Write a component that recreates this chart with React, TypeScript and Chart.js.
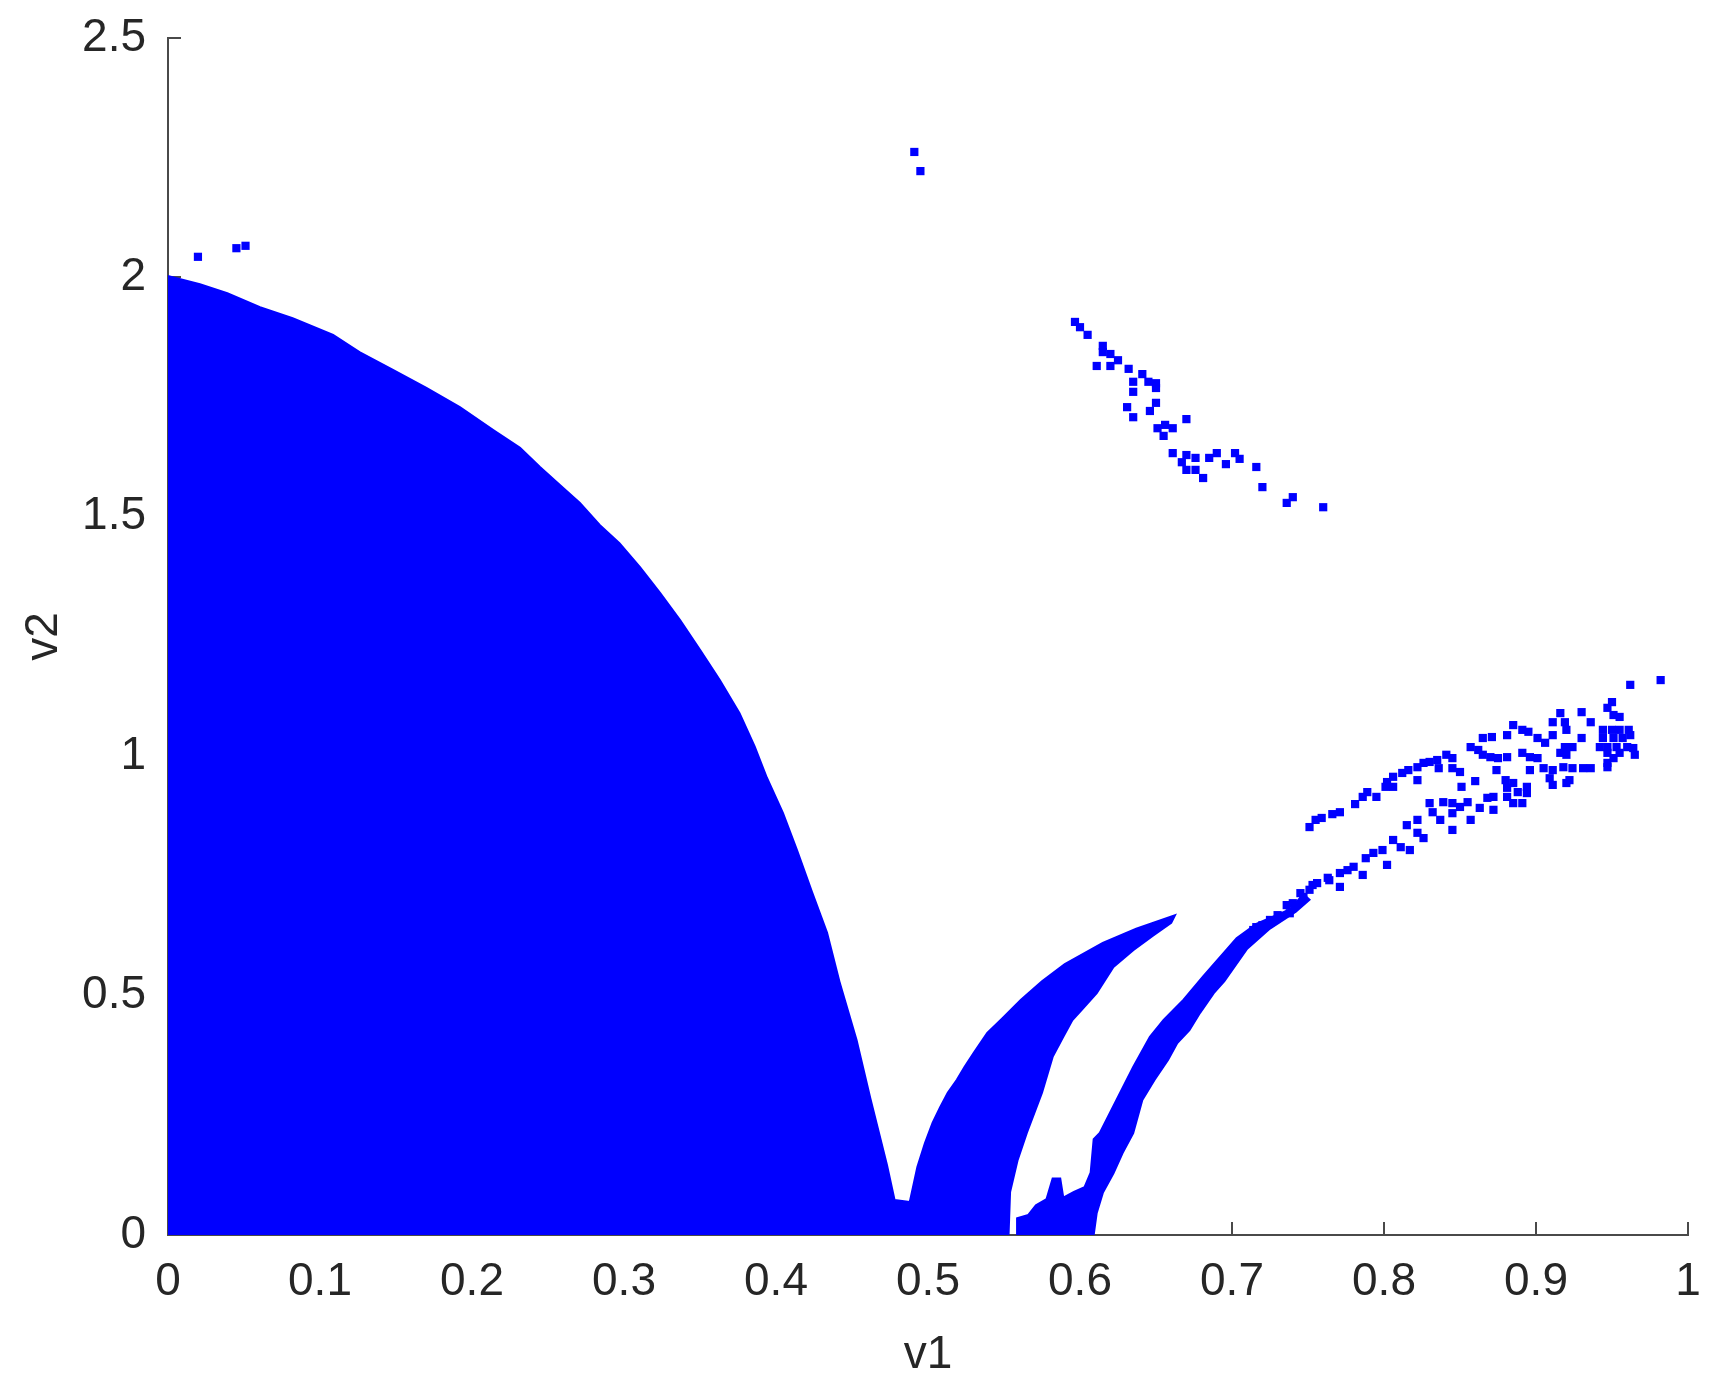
import React, { useEffect, useRef } from "react";
import { Chart, registerables } from "chart.js";

Chart.register(...registerables);

// ---- axis ticks ----
const xTicks = [0, 0.1, 0.2, 0.3, 0.4, 0.5, 0.6, 0.7, 0.8, 0.9, 1];
const xTickLabels = ["0", "0.1", "0.2", "0.3", "0.4", "0.5", "0.6", "0.7", "0.8", "0.9", "1"];
const yTicks = [0, 0.5, 1, 1.5, 2, 2.5];
const yTickLabels = ["0", "0.5", "1", "1.5", "2", "2.5"];
const xTitle = "v1";
const yTitle = "v2";

// ---- dense region: outline of main region + second lobe (v1, v2) ----
const mainRegion: [number, number][] = [
  [0, 0], [0, 2.003], [0.021, 1.986], [0.039, 1.967], [0.0605, 1.938], [0.082, 1.915],
  [0.1086, 1.88], [0.126, 1.844], [0.148, 1.807], [0.17, 1.769], [0.192, 1.729],
  [0.214, 1.681], [0.2316, 1.644], [0.2447, 1.604], [0.258, 1.566], [0.271, 1.529],
  [0.284, 1.483], [0.297, 1.445], [0.3105, 1.395], [0.3237, 1.341], [0.337, 1.284],
  [0.35, 1.222], [0.363, 1.159], [0.376, 1.09], [0.386, 1.02], [0.394, 0.955],
  [0.4046, 0.881], [0.4138, 0.804], [0.4237, 0.716], [0.4336, 0.631], [0.442, 0.526],
  [0.453, 0.407], [0.462, 0.286], [0.473, 0.146], [0.478, 0.073], [0.488, 0.069],
  [0.493, 0.142], [0.498, 0.192], [0.503, 0.234], [0.508, 0.267], [0.513, 0.297],
  [0.519, 0.324], [0.524, 0.351], [0.53, 0.38], [0.539, 0.422], [0.549, 0.453],
  [0.561, 0.491], [0.575, 0.53], [0.59, 0.566], [0.615, 0.61], [0.637, 0.64],
  [0.6625, 0.668], [0.66, 0.652], [0.648, 0.625], [0.635, 0.595], [0.622, 0.56],
  [0.611, 0.505], [0.601, 0.47], [0.595, 0.449], [0.589, 0.414], [0.582, 0.372],
  [0.575, 0.297], [0.565, 0.213], [0.559, 0.157], [0.554, 0.09], [0.553, 0],
];

// ---- dense strip rising from v1≈0.6 (with its bottom fringe) ----
const stripRegion: [number, number][] = [
  [0.5586, 0], [0.5586, 0.035], [0.566, 0.042], [0.571, 0.062], [0.578, 0.075],
  [0.582, 0.118], [0.587, 0.118], [0.589, 0.078], [0.596, 0.09], [0.603, 0.1],
  [0.607, 0.13], [0.609, 0.2], [0.613, 0.213], [0.624, 0.282], [0.635, 0.351],
  [0.646, 0.414], [0.655, 0.449], [0.668, 0.491], [0.681, 0.54], [0.703, 0.62],
  [0.716, 0.65], [0.738, 0.68], [0.747, 0.712], [0.751, 0.7], [0.742, 0.675],
  [0.725, 0.64], [0.71, 0.598], [0.695, 0.53], [0.688, 0.505], [0.679, 0.464],
  [0.672, 0.428], [0.664, 0.401], [0.658, 0.366], [0.649, 0.324], [0.641, 0.282],
  [0.635, 0.213], [0.628, 0.171], [0.622, 0.129], [0.615, 0.088], [0.611, 0.046],
  [0.609, 0],
];

// ---- isolated points near the top ----
const topPoints: [number, number][] = [
  [0.0197, 2.043], [0.045, 2.061], [0.051, 2.066], [0.491, 2.262], [0.495, 2.222],
];

// ---- cluster 0.6 < v1 < 0.76, 1.5 < v2 < 1.9 ----
const upperCluster: [number, number][] = [
  [0.5967, 1.907], [0.6, 1.896], [0.605, 1.88], [0.615, 1.857], [0.615, 1.844],
  [0.62, 1.84], [0.625, 1.827], [0.611, 1.815], [0.62, 1.815], [0.632, 1.809],
  [0.641, 1.798], [0.635, 1.782], [0.635, 1.761], [0.645, 1.782], [0.65, 1.779],
  [0.65, 1.769], [0.65, 1.738], [0.646, 1.721], [0.631, 1.729], [0.635, 1.708],
  [0.67, 1.704], [0.651, 1.685], [0.656, 1.692], [0.661, 1.685], [0.655, 1.669],
  [0.661, 1.633], [0.67, 1.629], [0.667, 1.614], [0.676, 1.623], [0.67, 1.598],
  [0.676, 1.598], [0.681, 1.581], [0.685, 1.623], [0.69, 1.633], [0.696, 1.61],
  [0.702, 1.633], [0.705, 1.621], [0.716, 1.604], [0.72, 1.562], [0.736, 1.529],
  [0.74, 1.541], [0.76, 1.52],
];

// ---- upper band 0.75 < v1 < 0.98 ----
const upperBand: [number, number][] = [
  [0.751, 0.852], [0.755, 0.867], [0.759, 0.871], [0.766, 0.879], [0.771, 0.883],
  [0.781, 0.9], [0.786, 0.915], [0.789, 0.925], [0.795, 0.915], [0.801, 0.936],
  [0.802, 0.946], [0.806, 0.957], [0.806, 0.936], [0.812, 0.965], [0.816, 0.971],
  [0.822, 0.977], [0.822, 0.95], [0.826, 0.986], [0.83, 0.988], [0.835, 0.992],
  [0.836, 0.975], [0.841, 1.003], [0.845, 0.996], [0.845, 0.975], [0.85, 0.967],
  [0.851, 0.936], [0.86, 0.948], [0.857, 1.019], [0.862, 1.013], [0.865, 1.003],
  [0.87, 0.998], [0.865, 1.038], [0.871, 1.04], [0.875, 0.996], [0.881, 0.998],
  [0.874, 0.971], [0.88, 0.95], [0.885, 0.944], [0.888, 0.925], [0.894, 0.936],
  [0.894, 0.923], [0.881, 1.044], [0.885, 1.065], [0.891, 1.055], [0.895, 1.051],
  [0.891, 1.007], [0.896, 0.998], [0.901, 0.996], [0.901, 1.038], [0.906, 1.028],
  [0.896, 0.971], [0.905, 0.975], [0.911, 0.971], [0.909, 0.954], [0.911, 0.94],
  [0.916, 1.007], [0.92, 1.003], [0.916, 1.09], [0.911, 1.071], [0.919, 1.071],
  [0.92, 1.055], [0.911, 1.044], [0.919, 1.019], [0.924, 1.019], [0.93, 1.038],
  [0.93, 1.092], [0.936, 1.071], [0.918, 0.977], [0.924, 0.975], [0.931, 0.975],
  [0.936, 0.975], [0.922, 0.95], [0.92, 0.944], [0.947, 0.977], [0.95, 1.113],
  [0.947, 1.101], [0.951, 1.086], [0.955, 1.082], [0.944, 1.055], [0.95, 1.055],
  [0.955, 1.055], [0.961, 1.055], [0.944, 1.038], [0.951, 1.038], [0.957, 1.038],
  [0.962, 1.044], [0.942, 1.019], [0.947, 1.019], [0.953, 1.019], [0.96, 1.019],
  [0.964, 1.017], [0.947, 1.007], [0.955, 1.007], [0.965, 1.003], [0.947, 0.986],
  [0.951, 0.996], [0.962, 1.149], [0.982, 1.159],
];

// ---- lower band 0.71 < v1 < 0.89 ----
const lowerBand: [number, number][] = [
  [0.714, 0.637], [0.716, 0.643], [0.72, 0.647], [0.725, 0.658], [0.73, 0.668],
  [0.736, 0.689], [0.738, 0.672], [0.74, 0.693], [0.745, 0.714], [0.747, 0.706],
  [0.751, 0.721], [0.753, 0.731], [0.756, 0.735], [0.763, 0.746], [0.764, 0.741],
  [0.771, 0.727], [0.771, 0.756], [0.776, 0.762], [0.78, 0.769], [0.786, 0.752],
  [0.788, 0.787], [0.793, 0.798], [0.799, 0.804], [0.802, 0.773], [0.806, 0.825],
  [0.811, 0.81], [0.817, 0.804], [0.815, 0.856], [0.822, 0.867], [0.822, 0.84],
  [0.826, 0.829], [0.83, 0.902], [0.832, 0.883], [0.837, 0.867], [0.839, 0.904],
  [0.845, 0.902], [0.845, 0.881], [0.845, 0.846], [0.85, 0.894], [0.855, 0.904],
  [0.857, 0.867], [0.863, 0.892], [0.868, 0.913], [0.872, 0.915], [0.872, 0.888],
  [0.881, 0.915], [0.885, 0.902], [0.891, 0.902], [0.881, 0.934],
];

const BLUE = "#0000ff";
const TEXT = "#262626";
const AXIS = "#4a4a4a";
const FONT = "'Liberation Sans', Arial, Helvetica, sans-serif";

const toXY = (arr: [number, number][]) => arr.map(([x, y]) => ({ x, y }));

const inwardTicks = {
  id: "inwardTicks",
  beforeDatasetsDraw(chart: any) {
    const { ctx, chartArea, scales } = chart;
    ctx.save();
    ctx.strokeStyle = AXIS;
    ctx.lineWidth = 2;
    ctx.beginPath();
    xTicks.forEach((v) => {
      const px = Math.round(scales.x.getPixelForValue(v));
      ctx.moveTo(px, chartArea.bottom);
      ctx.lineTo(px, chartArea.bottom - 13);
    });
    yTicks.forEach((v) => {
      const py = Math.round(scales.y.getPixelForValue(v));
      ctx.moveTo(chartArea.left, py);
      ctx.lineTo(chartArea.left + 13, py);
    });
    ctx.stroke();
    ctx.restore();
  },
};

const shapeDataset = (label: string, arr: [number, number][]) => ({
  label,
  data: toXY(arr),
  showLine: true,
  fill: "shape",
  backgroundColor: BLUE,
  borderColor: BLUE,
  borderWidth: 2,
  pointRadius: 0,
  tension: 0,
});

const markerDataset = (label: string, arr: [number, number][]) => ({
  label,
  data: toXY(arr),
  showLine: false,
  pointStyle: "rect",
  pointRadius: 5.8,
  pointBorderWidth: 0,
  pointBackgroundColor: BLUE,
  pointBorderColor: BLUE,
});

export default function App() {
  const ref = useRef<HTMLCanvasElement | null>(null);

  useEffect(() => {
    if (!ref.current) return;
    const chart = new Chart(ref.current, {
      type: "scatter",
      data: {
        datasets: [
          shapeDataset("main", mainRegion),
          shapeDataset("strip", stripRegion),
          markerDataset("top", topPoints),
          markerDataset("cluster", upperCluster),
          markerDataset("upper", upperBand),
          markerDataset("lower", lowerBand),
        ] as any,
      },
      options: {
        responsive: false,
        animation: false,
        devicePixelRatio: 1,
        events: [],
        layout: { padding: { left: 0, right: 34, top: 30, bottom: 0 } },
        plugins: {
          legend: { display: false },
          tooltip: { enabled: false },
        },
        scales: {
          x: {
            type: "linear",
            min: 0,
            max: 1,
            afterBuildTicks: (s: any) => {
              s.ticks = xTicks.map((v) => ({ value: v }));
            },
            afterFit: (s: any) => {
              s.height = 156;
              s.paddingLeft = 0;
              s.paddingRight = 0;
            },
            grid: { display: false, drawTicks: false },
            border: { display: true, color: AXIS, width: 2 },
            ticks: {
              padding: 20,
              color: TEXT,
              font: { family: FONT, size: 46 },
              maxRotation: 0,
              autoSkip: false,
              callback: (_v: any, i: number) => xTickLabels[i],
            },
            title: {
              display: true,
              text: xTitle,
              color: TEXT,
              font: { family: FONT, size: 46 },
              padding: { top: 0, bottom: 8 },
            },
          },
          y: {
            type: "linear",
            min: 0,
            max: 2.5,
            afterBuildTicks: (s: any) => {
              s.ticks = yTicks.map((v) => ({ value: v }));
            },
            afterFit: (s: any) => {
              s.width = 160;
              s.paddingTop = 0;
              s.paddingBottom = 0;
            },
            grid: { display: false, drawTicks: false },
            border: { display: true, color: AXIS, width: 2 },
            ticks: {
              padding: 22,
              color: TEXT,
              font: { family: FONT, size: 46 },
              autoSkip: false,
              callback: (_v: any, i: number) => yTickLabels[i],
            },
            title: {
              display: true,
              text: yTitle,
              color: TEXT,
              font: { family: FONT, size: 46 },
              padding: { top: 9, bottom: 0 },
            },
          },
        },
      } as any,
      plugins: [inwardTicks],
    });
    return () => chart.destroy();
  }, []);

  return (
    <div style={{ width: 1714, height: 1383 }}>
      <canvas ref={ref} width={1714} height={1383} style={{ display: "block" }} />
    </div>
  );
}
